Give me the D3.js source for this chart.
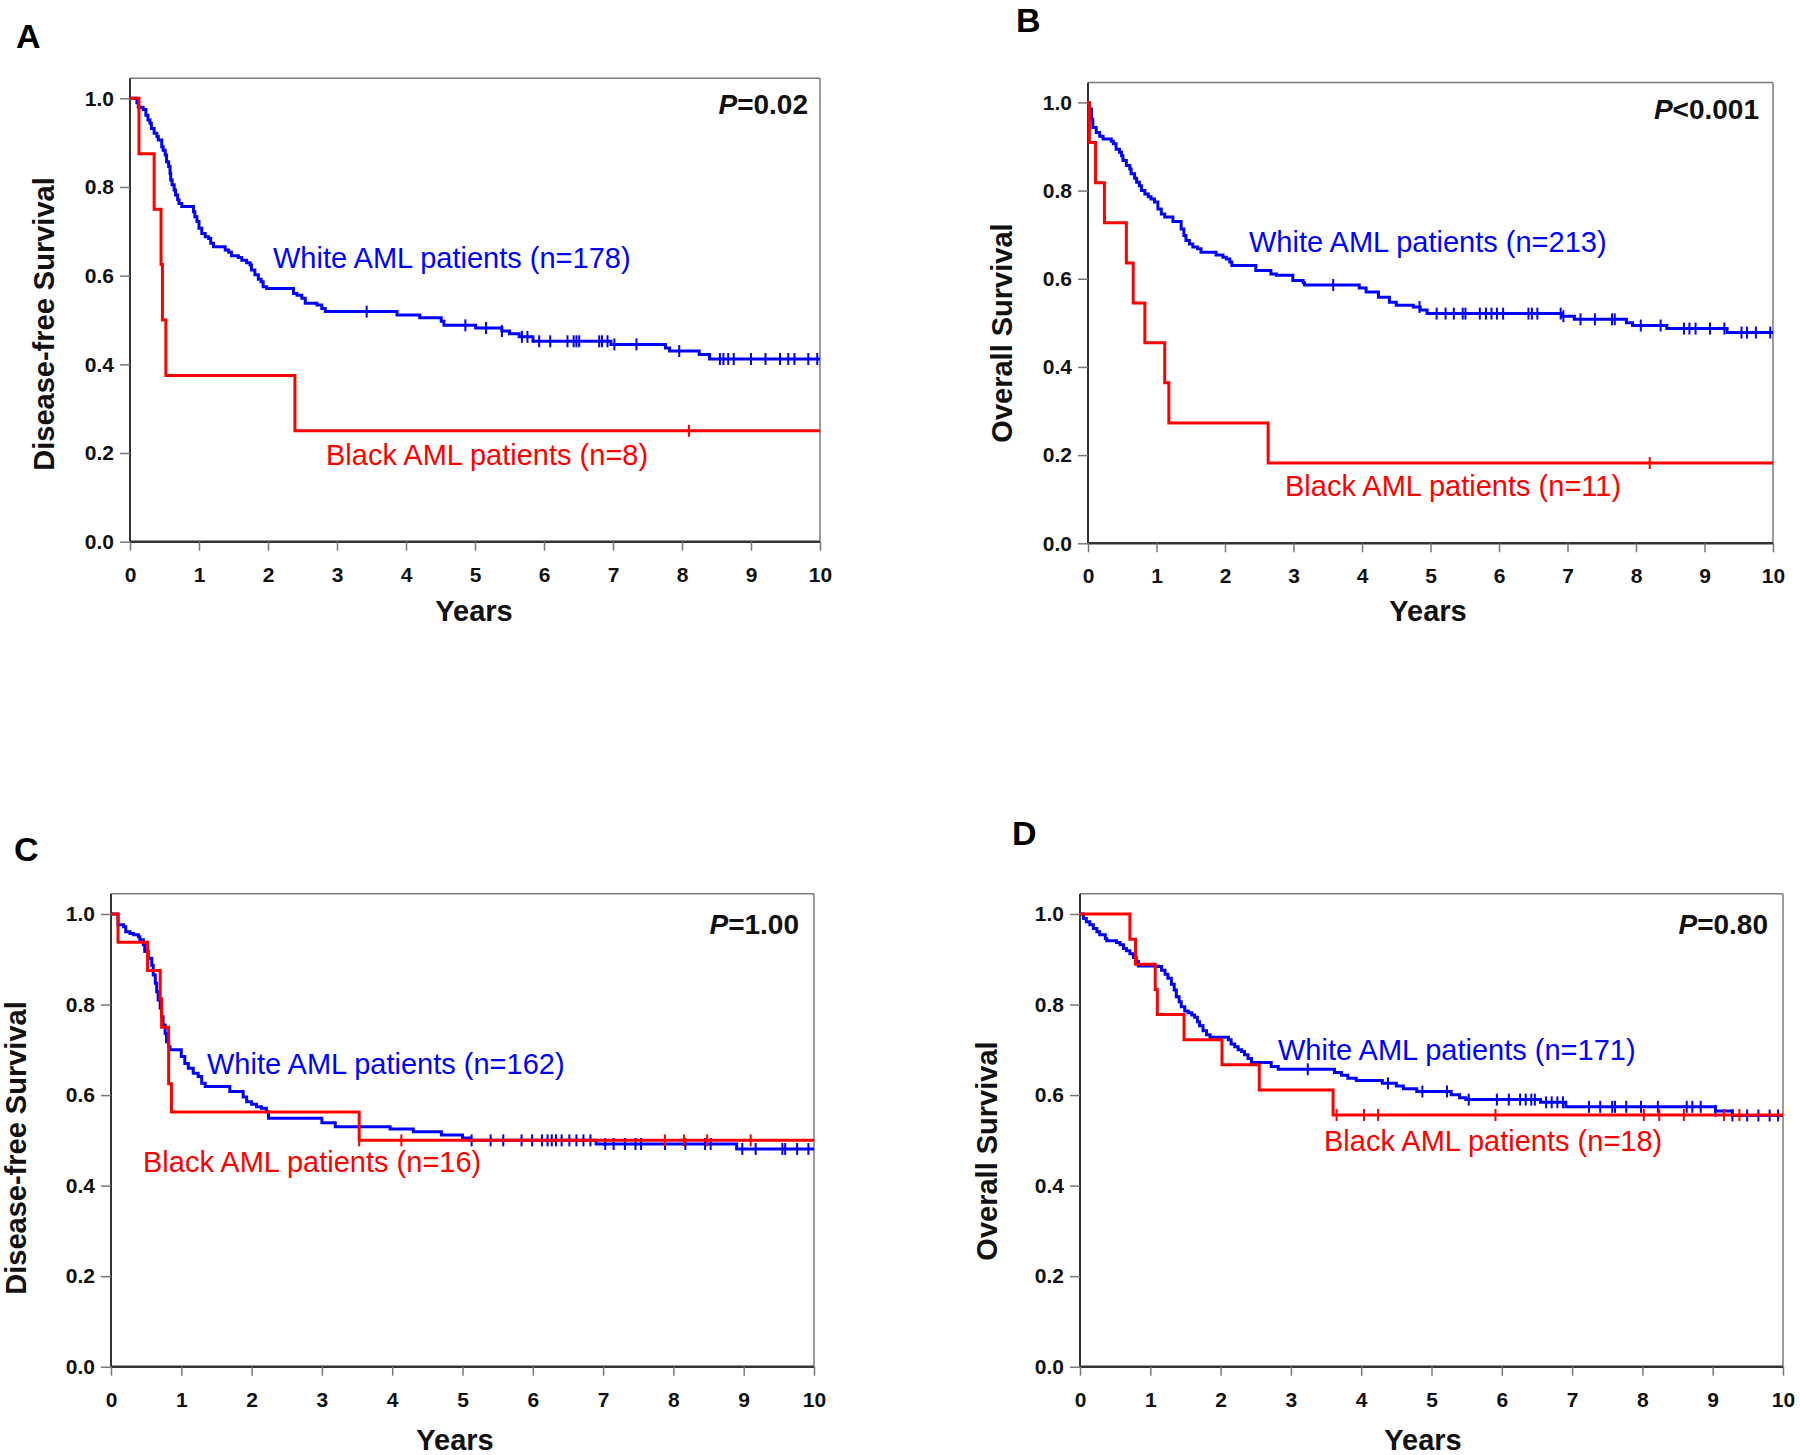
<!DOCTYPE html>
<html><head><meta charset="utf-8">
<script src="https://cdn.jsdelivr.net/npm/d3@7"></script>
<style>
html,body{margin:0;padding:0;background:#fff;}
svg{display:block;font-family:"Liberation Sans",Arial,Helvetica,sans-serif;}
</style></head>
<body>
<svg id="chart" width="1800" height="1455"></svg>
<script>
// ---------- DATA ----------
const xTicks = [0,1,2,3,4,5,6,7,8,9,10];
const yTicks = [0.0,0.2,0.4,0.6,0.8,1.0];
const panelLetters = ["A","B","C","D"];
const yTitles = ["Disease-free Survival","Overall Survival","Disease-free Survival","Overall Survival"];
const pLabels = [["=","0.02"],["<","0.001"],["=","1.00"],["=","0.80"]];
const whiteLabels = ["White AML patients (n=178)","White AML patients (n=213)","White AML patients (n=162)","White AML patients (n=171)"];
const blackLabels = ["Black AML patients (n=8)","Black AML patients (n=11)","Black AML patients (n=16)","Black AML patients (n=18)"];

// [years, survival] after each drop
const whiteA = [[0.10,0.99],[0.12,0.98],[0.19,0.975],[0.23,0.962],[0.26,0.951],[0.29,0.944],[0.31,0.932],[0.35,0.921],[0.39,0.914],[0.41,0.906],[0.46,0.891],[0.48,0.883],[0.51,0.872],[0.53,0.857],[0.56,0.846],[0.58,0.831],[0.59,0.816],[0.61,0.805],[0.64,0.793],[0.66,0.782],[0.69,0.771],[0.71,0.763],[0.75,0.756],[0.92,0.744],[0.94,0.733],[0.97,0.722],[1.00,0.707],[1.04,0.695],[1.09,0.688],[1.14,0.684],[1.17,0.673],[1.21,0.665],[1.38,0.658],[1.43,0.653],[1.47,0.645],[1.57,0.641],[1.62,0.635],[1.69,0.629],[1.74,0.624],[1.76,0.613],[1.81,0.602],[1.86,0.592],[1.90,0.586],[1.93,0.575],[1.98,0.571],[2.37,0.560],[2.42,0.556],[2.49,0.549],[2.54,0.538],[2.71,0.534],[2.78,0.526],[2.83,0.519],[3.87,0.511],[4.20,0.505],[4.51,0.497],[4.55,0.488],[5.01,0.482],[5.39,0.475],[5.50,0.469],[5.64,0.462],[5.84,0.452],[6.97,0.445],[7.76,0.437],[7.82,0.430],[8.25,0.422],[8.40,0.412]];
const whiteACensor = [3.43,4.86,5.16,5.39,5.68,5.76,5.93,6.09,6.34,6.43,6.47,6.51,6.80,6.84,6.92,7.02,7.34,7.96,8.55,8.60,8.67,8.75,9.00,9.21,9.42,9.54,9.63,9.83,9.96];
const blackA = [[0.13,0.875],[0.35,0.75],[0.45,0.625],[0.47,0.5],[0.52,0.375],[2.39,0.25]];
const blackACensor = [8.1];

const whiteB = [[0.02,0.985],[0.05,0.962],[0.07,0.943],[0.12,0.932],[0.17,0.923],[0.22,0.917],[0.34,0.912],[0.37,0.906],[0.41,0.894],[0.46,0.887],[0.49,0.879],[0.51,0.868],[0.56,0.857],[0.61,0.849],[0.63,0.838],[0.68,0.828],[0.71,0.819],[0.75,0.811],[0.78,0.800],[0.83,0.792],[0.88,0.786],[0.92,0.781],[0.97,0.774],[1.02,0.758],[1.07,0.747],[1.12,0.740],[1.24,0.730],[1.36,0.713],[1.40,0.698],[1.43,0.687],[1.48,0.679],[1.53,0.672],[1.60,0.668],[1.65,0.660],[1.87,0.654],[1.97,0.649],[2.02,0.645],[2.07,0.638],[2.10,0.630],[2.45,0.619],[2.67,0.611],[2.75,0.608],[2.99,0.596],[3.14,0.591],[3.16,0.586],[3.96,0.579],[4.06,0.570],[4.24,0.558],[4.40,0.547],[4.50,0.540],[4.75,0.536],[4.85,0.529],[4.95,0.521],[6.92,0.515],[7.10,0.508],[7.86,0.500],[7.95,0.494],[8.45,0.487],[9.33,0.478]];
const whiteBCensor = [3.58,4.84,5.09,5.22,5.34,5.47,5.51,5.72,5.81,5.89,5.97,6.06,6.43,6.48,6.56,6.90,6.94,7.19,7.40,7.65,7.69,8.07,8.36,8.70,8.78,8.87,9.08,9.29,9.54,9.62,9.75,9.96];
const blackB = [[0.02,0.909],[0.11,0.818],[0.24,0.727],[0.56,0.636],[0.66,0.545],[0.83,0.455],[1.12,0.364],[1.18,0.273],[2.63,0.182]];
const blackBCensor = [8.2];

const whiteC = [[0.10,0.976],[0.18,0.972],[0.21,0.961],[0.27,0.957],[0.32,0.954],[0.39,0.950],[0.41,0.943],[0.46,0.932],[0.48,0.917],[0.53,0.902],[0.58,0.887],[0.60,0.865],[0.63,0.847],[0.65,0.828],[0.67,0.810],[0.70,0.792],[0.72,0.773],[0.74,0.755],[0.77,0.736],[0.79,0.718],[0.82,0.707],[0.84,0.700],[1.00,0.685],[1.05,0.670],[1.10,0.659],[1.17,0.648],[1.24,0.641],[1.29,0.626],[1.34,0.619],[1.69,0.608],[1.88,0.596],[1.93,0.585],[2.00,0.580],[2.07,0.574],[2.14,0.571],[2.21,0.563],[2.24,0.549],[3.00,0.539],[3.19,0.530],[3.97,0.525],[4.30,0.519],[4.70,0.512],[5.00,0.505],[5.10,0.500],[6.90,0.492],[8.90,0.481]];
const whiteCCensor = [5.13,5.40,5.58,5.84,5.99,6.13,6.21,6.27,6.33,6.41,6.52,6.62,6.72,6.82,7.03,7.15,7.31,7.46,7.54,7.88,8.17,8.45,8.53,8.98,9.17,9.55,9.59,9.76,9.92];
const blackC = [[0.10,0.9375],[0.52,0.875],[0.70,0.8125],[0.72,0.75],[0.82,0.625],[0.86,0.5625],[3.53,0.5]];
const blackCCensor = [3.53,4.13,7.88,8.15,8.48,9.10];

const whiteD = [[0.05,0.990],[0.09,0.983],[0.14,0.976],[0.19,0.968],[0.24,0.961],[0.28,0.954],[0.36,0.946],[0.38,0.941],[0.52,0.937],[0.57,0.932],[0.62,0.924],[0.66,0.919],[0.71,0.912],[0.76,0.904],[0.80,0.895],[0.83,0.885],[1.11,0.884],[1.16,0.876],[1.21,0.867],[1.25,0.858],[1.30,0.845],[1.34,0.832],[1.37,0.817],[1.41,0.806],[1.44,0.795],[1.49,0.786],[1.54,0.782],[1.59,0.777],[1.63,0.772],[1.67,0.762],[1.70,0.753],[1.75,0.742],[1.80,0.733],[1.85,0.728],[2.11,0.722],[2.15,0.713],[2.20,0.707],[2.25,0.700],[2.30,0.696],[2.34,0.689],[2.39,0.681],[2.44,0.672],[2.72,0.663],[2.82,0.657],[3.62,0.650],[3.72,0.644],[3.81,0.637],[3.93,0.632],[4.30,0.626],[4.50,0.620],[4.60,0.614],[4.79,0.608],[5.28,0.601],[5.40,0.594],[5.49,0.590],[6.55,0.584],[6.91,0.574],[9.04,0.565],[9.28,0.555]];
const whiteDCensor = [3.24,4.38,4.87,5.22,5.53,5.93,6.10,6.26,6.34,6.42,6.47,6.63,6.71,6.79,6.87,7.24,7.40,7.57,7.61,7.77,7.98,8.22,8.63,8.71,8.83,9.04,9.28,9.49,9.65,9.81,9.93];
const blackD = [[0.71,0.944],[0.79,0.889],[1.07,0.833],[1.10,0.778],[1.48,0.722],[2.02,0.667],[2.55,0.611],[3.60,0.556]];
const blackDCensor = [3.65,4.04,4.24,5.91,8.02,8.24,8.59,9.16,9.38];

// ---------- LAYOUT ----------
const panels = [
  {x0:130, x10:820, y0:541.7, y1:98.3, white:whiteA, wc:whiteACensor, black:blackA, bc:blackACensor,
   letter:[16,48], ytitle:[54,324], xtitle:[474,621], p:[808,114], wl:[273,268], bl:[326,465]},
  {x0:1088, x10:1773, y0:543.3, y1:102.4, white:whiteB, wc:whiteBCensor, black:blackB, bc:blackBCensor,
   letter:[1016,32], ytitle:[1012,333], xtitle:[1428,621], p:[1759,119], wl:[1249,252], bl:[1285,496]},
  {x0:111, x10:814, y0:1366.7, y1:914, white:whiteC, wc:whiteCCensor, black:blackC, bc:blackCCensor,
   letter:[14,861], ytitle:[26,1148], xtitle:[455,1450], p:[799,934], wl:[207,1074], bl:[143,1172]},
  {x0:1080, x10:1783, y0:1366.7, y1:914, white:whiteD, wc:whiteDCensor, black:blackD, bc:blackDCensor,
   letter:[1012,845], ytitle:[997,1151], xtitle:[1423,1450], p:[1768,934], wl:[1278,1060], bl:[1324,1151]}
];
const BLUE = "#0000ff", RED = "#ff0000";
const svg = d3.select("#chart");
const FONT = '"Liberation Sans",Arial,sans-serif';

function stepVal(steps, t){
  let v = 1;
  for (const s of steps){ if (s[0] <= t) v = s[1]; else break; }
  return v;
}

panels.forEach((P, i) => {
  const x = d3.scaleLinear().domain([0,10]).range([P.x0, P.x10]);
  const y = d3.scaleLinear().domain([0,1]).range([P.y0, P.y1]);
  const g = svg.append("g");
  const topY = y(1.045);

  // frame (top/right grey)
  g.append("line").attr("x1", x(0)).attr("x2", x(10)).attr("y1", topY).attr("y2", topY)
    .attr("stroke","#7a7a7a").attr("stroke-width",1.5);
  g.append("line").attr("x1", x(10)).attr("x2", x(10)).attr("y1", topY).attr("y2", y(0))
    .attr("stroke","#7a7a7a").attr("stroke-width",1.5);

  // y axis
  const yAx = g.append("g").attr("transform",`translate(${x(0)},0)`)
    .call(d3.axisLeft(y).tickValues(yTicks).tickFormat(d3.format(".1f")).tickSize(10).tickPadding(6));
  yAx.select(".domain").attr("stroke","#333").attr("stroke-width",2)
    .attr("d", `M0,${topY}V${y(0)}`);
  yAx.selectAll(".tick line").attr("stroke","#777").attr("stroke-width",1.5);
  yAx.selectAll(".tick text").attr("font-size",21).attr("font-weight","bold").attr("fill","#111")
    .attr("font-family",FONT);

  // x axis
  const xAx = g.append("g").attr("transform",`translate(0,${y(0)})`)
    .call(d3.axisBottom(x).tickValues(xTicks).tickFormat(d3.format("d")).tickSize(9).tickPadding(16));
  xAx.select(".domain").attr("stroke","#333").attr("stroke-width",2.5).attr("d",`M${x(0)},0H${x(10)}`);
  xAx.selectAll(".tick line").attr("stroke","#777").attr("stroke-width",1.5);
  xAx.selectAll(".tick text").attr("font-size",21).attr("font-weight","bold").attr("fill","#111")
    .attr("font-family",FONT);

  const line = d3.line().x(d=>x(d[0])).y(d=>y(d[1])).curve(d3.curveStepAfter);

  function drawSeries(steps, cens, color){
    const last = steps[steps.length-1][1];
    const pts = [[0,1], ...steps, [10,last]];
    g.append("path").attr("d", line(pts)).attr("fill","none").attr("stroke",color)
      .attr("stroke-width",3).attr("stroke-linejoin","miter");
    g.selectAll(null).data(cens).enter().append("line")
      .attr("x1", d=>x(d)).attr("x2", d=>x(d))
      .attr("y1", d=>y(stepVal(steps,d))-6).attr("y2", d=>y(stepVal(steps,d))+6)
      .attr("stroke",color).attr("stroke-width",2);
  }
  drawSeries(P.white, P.wc, BLUE);
  drawSeries(P.black, P.bc, RED);

  // labels
  g.append("text").attr("x",P.wl[0]).attr("y",P.wl[1]).attr("font-size",29).attr("fill",BLUE).text(whiteLabels[i]);
  g.append("text").attr("x",P.bl[0]).attr("y",P.bl[1]).attr("font-size",29).attr("fill",RED).text(blackLabels[i]);

  // p value
  const pt = g.append("text").attr("x",P.p[0]).attr("y",P.p[1]).attr("text-anchor","end")
    .attr("font-size",28).attr("font-weight","bold").attr("fill","#111");
  pt.append("tspan").attr("font-style","italic").text("P");
  pt.append("tspan").text(pLabels[i][0] + pLabels[i][1]);

  // axis titles
  g.append("text").attr("x",P.xtitle[0]).attr("y",P.xtitle[1]).attr("text-anchor","middle")
    .attr("font-size",29).attr("font-weight","bold").attr("fill","#111").text("Years");
  g.append("text").attr("transform",`translate(${P.ytitle[0]},${P.ytitle[1]}) rotate(-90)`)
    .attr("text-anchor","middle").attr("font-size",29).attr("font-weight","bold").attr("fill","#111")
    .text(yTitles[i]);

  // panel letter
  g.append("text").attr("x",P.letter[0]).attr("y",P.letter[1]).attr("font-size",34)
    .attr("font-weight","bold").attr("fill","#000").text(panelLetters[i]);
});
</script>
</body></html>
